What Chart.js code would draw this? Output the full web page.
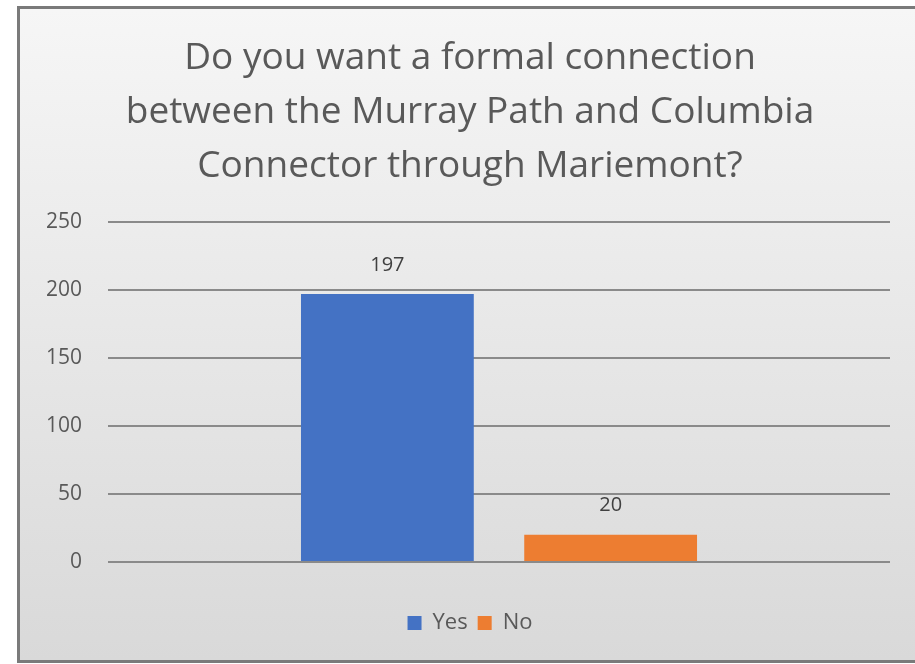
<!DOCTYPE html>
<html>
<head>
<meta charset="utf-8">
<script src="https://cdn.jsdelivr.net/npm/chart.js@4/dist/chart.umd.min.js"></script>
<style>
  html, body { margin: 0; padding: 0; background: #ffffff; overflow: hidden; }
  #frame {
    position: absolute;
    left: 17px; top: 6px;
    width: 900px; height: 651px;
    border-left: 3px solid #7a7a7a;
    border-top: 3px solid #7a7a7a;
    border-bottom: 3px solid #7a7a7a;
    background: linear-gradient(to bottom, #f6f6f6 0%, #e6e6e6 55%, #d9d9d9 100%);
  }
  #chartBox { position: relative; width: 900px; height: 651px; }
</style>
</head>
<body>
<div id="frame">
  <div id="chartBox"><canvas id="surveyChart"></canvas></div>
</div>
<script>
const categories = [''];
const seriesNames = ['Yes', 'No'];
const yesValues = [197];
const noValues = [20];
const yTicks = [0, 50, 100, 150, 200, 250];
const titleLines = [
  'Do you want a formal connection',
  'between the Murray Path and Columbia',
  'Connector through Mariemont?'
];

const textGrey = '#595959';

// draws the value above each bar
const barValueLabels = {
  id: 'barValueLabels',
  afterDatasetsDraw(chart) {
    const c = chart.ctx;
    c.save();
    c.font = '20px "Open Sans"';
    c.fillStyle = '#404040';
    c.textAlign = 'center';
    c.textBaseline = 'middle';
    chart.data.datasets.forEach((ds, i) => {
      chart.getDatasetMeta(i).data.forEach((bar, j) => {
        c.fillText(ds.data[j], bar.x, bar.y - 29);
      });
    });
    c.restore();
  }
};

const ctx = document.getElementById('surveyChart');

new Chart(ctx, {
  type: 'bar',
  data: {
    labels: categories,
    datasets: [
      {
        label: seriesNames[0],
        data: yesValues,
        backgroundColor: '#4472C4',
        categoryPercentage: 0.571,
        barPercentage: 0.774
      },
      {
        label: seriesNames[1],
        data: noValues,
        backgroundColor: '#ED7D31',
        categoryPercentage: 0.571,
        barPercentage: 0.774
      }
    ]
  },
  options: {
    responsive: true,
    maintainAspectRatio: false,
    animation: false,
    layout: { padding: { left: 0, right: 0, top: 0, bottom: 16 } },
    plugins: {
      title: {
        display: true,
        text: titleLines,
        color: textGrey,
        font: { family: '"Open Sans"', size: 37, weight: 'normal', lineHeight: 1.45 },
        padding: { top: 23, bottom: 29 }
      },
      legend: {
        position: 'bottom',
        labels: {
          color: textGrey,
          font: { family: '"Open Sans"', size: 22 },
          boxWidth: 14,
          boxHeight: 14,
          padding: 10
        }
      },
      tooltip: { enabled: false }
    },
    scales: {
      x: {
        grid: { display: false, drawTicks: false },
        border: { display: false },
        ticks: { display: false },
        afterFit(axis) { axis.height = 40; }
      },
      y: {
        min: 0,
        max: 250,
        afterBuildTicks(axis) {
          axis.ticks = yTicks.map(v => ({ value: v }));
        },
        grid: { color: '#8a8a8a', lineWidth: 2, drawTicks: false },
        border: { display: false },
        ticks: {
          color: textGrey,
          font: { family: '"Open Sans"', size: 21 },
          padding: 26
        }
      },
      // empty right axis, only keeps the plot clear of the right edge
      yRight: {
        position: 'right',
        grid: { display: false, drawTicks: false },
        border: { display: false },
        ticks: { display: false },
        afterFit(axis) { axis.width = 30; }
      }
    }
  },
  plugins: [barValueLabels]
});
</script>
</body>
</html>
